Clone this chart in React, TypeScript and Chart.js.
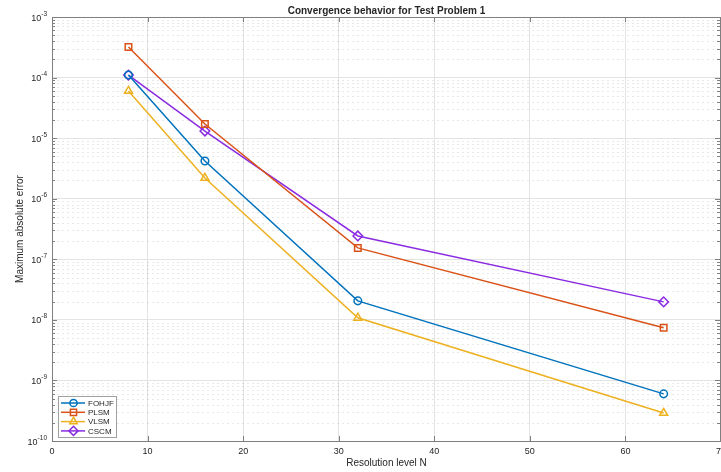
import React, { useEffect, useRef } from 'react';
import { Chart, registerables } from 'chart.js';

Chart.register(...registerables);

const resolutionN = [8, 16, 32, 64];
const fohjfErrors = [1.1e-4, 4.2e-6, 2.06e-8, 6.0e-10];
const plsmErrors = [3.2e-4, 1.71e-5, 1.54e-7, 7.4e-9];
const vlsmErrors = [6.0e-5, 2.2e-6, 1.08e-8, 2.9e-10];
const cscmErrors = [1.1e-4, 1.31e-5, 2.43e-7, 1.98e-8];
const seriesNames = ['FOHJF', 'PLSM', 'VLSM', 'CSCM'];
const xTickValues = [0, 10, 20, 30, 40, 50, 60, 70];
const yTickExponents = [-3, -4, -5, -6, -7, -8, -9, -10];

const titleText = 'Convergence behavior for Test Problem 1';
const xLabel = 'Resolution level N';
const yLabel = 'Maximum absolute error';

const COLORS = ['#0072BD', '#D95319', '#EDB120', '#8A2BE2'];
const STYLES = ['circle', 'rect', 'triangle', 'rectRot'];
const RADII = [3.8, 4.6, 4.6, 4.8];
const FONT = '"Liberation Sans", Arial, Helvetica, sans-serif';
const AXIS_COLOR = '#7f7f7f';
const GRID_COLOR = '#e3e3e3';
const TEXT_COLOR = '#262626';

const isPow10 = (v: number) => {
  const l = Math.log10(v);
  return Math.abs(l - Math.round(l)) < 1e-9;
};

const toPoints = (ys: number[]) => resolutionN.map((x, i) => ({ x, y: ys[i] }));

function drawMarker(ctx: CanvasRenderingContext2D, style: string, x: number, y: number, r: number, color: string) {
  ctx.save();
  ctx.strokeStyle = color;
  ctx.lineWidth = 1.5;
  ctx.beginPath();
  if (style === 'circle') {
    ctx.arc(x, y, r, 0, Math.PI * 2);
  } else if (style === 'rect') {
    const s = r * Math.SQRT1_2;
    ctx.rect(x - s, y - s, 2 * s, 2 * s);
  } else if (style === 'triangle') {
    const a = (Math.PI * 2) / 3;
    ctx.moveTo(x, y - r);
    ctx.lineTo(x + Math.sin(a) * r, y - Math.cos(a) * r);
    ctx.lineTo(x + Math.sin(2 * a) * r, y - Math.cos(2 * a) * r);
    ctx.closePath();
  } else {
    ctx.moveTo(x, y - r);
    ctx.lineTo(x + r, y);
    ctx.lineTo(x, y + r);
    ctx.lineTo(x - r, y);
    ctx.closePath();
  }
  ctx.stroke();
  ctx.restore();
}

const axesPlugin = {
  id: 'matlabAxes',
  beforeDatasetsDraw(chart: any) {
    const { ctx, chartArea } = chart;
    const ys = chart.scales.y;
    ctx.save();
    ctx.strokeStyle = 'rgba(0,0,0,0.09)';
    ctx.lineWidth = 1;
    ctx.setLineDash([2, 3]);
    for (let e = -10; e < -3; e++) {
      for (let k = 2; k <= 9; k++) {
        const y = Math.round(ys.getPixelForValue(k * Math.pow(10, e))) + 0.5;
        ctx.beginPath();
        ctx.moveTo(chartArea.left, y);
        ctx.lineTo(chartArea.right, y);
        ctx.stroke();
      }
    }
    ctx.restore();
  },
  afterDatasetsDraw(chart: any) {
    const { ctx, chartArea } = chart;
    const { left, right, top, bottom } = chartArea;
    const xs = chart.scales.x;
    const ys = chart.scales.y;
    ctx.save();
    ctx.setLineDash([]);
    ctx.strokeStyle = AXIS_COLOR;
    ctx.lineWidth = 1;
    ctx.strokeRect(Math.round(left) + 0.5, Math.round(top) + 0.5, Math.round(right - left) - 1, Math.round(bottom - top));
    ctx.beginPath();
    xTickValues.forEach((v) => {
      const x = Math.round(xs.getPixelForValue(v)) + 0.5;
      ctx.moveTo(x, bottom);
      ctx.lineTo(x, bottom - 5);
      ctx.moveTo(x, top);
      ctx.lineTo(x, top + 5);
    });
    for (let e = -10; e <= -3; e++) {
      for (let k = 1; k <= 9; k++) {
        if (e === -3 && k > 1) break;
        const y = Math.round(ys.getPixelForValue(k * Math.pow(10, e))) + 0.5;
        const len = k === 1 ? 5 : 3;
        ctx.moveTo(left, y);
        ctx.lineTo(left + len, y);
        ctx.moveTo(right - 1, y);
        ctx.lineTo(right - 1 - len, y);
      }
    }
    ctx.stroke();

    ctx.fillStyle = TEXT_COLOR;
    yTickExponents.forEach((e) => {
      const y = ys.getPixelForValue(Math.pow(10, e));
      const expText = '-' + String(-e);
      ctx.font = `6.5px ${FONT}`;
      const expW = ctx.measureText(expText).width;
      const rightEdge = left - 5;
      ctx.textAlign = 'left';
      ctx.textBaseline = 'alphabetic';
      ctx.fillText(expText, rightEdge - expW, y - 1.5);
      ctx.font = `9px ${FONT}`;
      ctx.textAlign = 'right';
      ctx.fillText('10', rightEdge - expW, y + 3.5);
    });

    const lx = left + 6;
    const ly = bottom - 45;
    const lw = 58;
    const lh = 41;
    ctx.fillStyle = '#ffffff';
    ctx.fillRect(lx, ly, lw, lh);
    ctx.strokeStyle = '#a0a0a0';
    ctx.lineWidth = 1;
    ctx.strokeRect(lx + 0.5, ly + 0.5, lw, lh);
    chart.data.datasets.forEach((ds: any, i: number) => {
      const ry = ly + 7 + i * 9.3;
      ctx.strokeStyle = ds.borderColor;
      ctx.lineWidth = 1.5;
      ctx.beginPath();
      ctx.moveTo(lx + 3, ry);
      ctx.lineTo(lx + 27, ry);
      ctx.stroke();
      drawMarker(ctx, ds.pointStyle, lx + 15.5, ry, ds.pointRadius * 0.95, ds.borderColor);
      ctx.fillStyle = TEXT_COLOR;
      ctx.font = `8px ${FONT}`;
      ctx.textAlign = 'left';
      ctx.textBaseline = 'middle';
      ctx.fillText(ds.label, lx + 30, ry + 0.5);
    });
    ctx.restore();
  },
};

export default function App() {
  const canvasRef = useRef<HTMLCanvasElement | null>(null);

  useEffect(() => {
    document.body.style.margin = '0';
    const canvas = canvasRef.current;
    if (!canvas) return;
    const allSeries = [fohjfErrors, plsmErrors, vlsmErrors, cscmErrors];
    const chart = new Chart(canvas, {
      type: 'line',
      data: {
        datasets: allSeries.map((s, i) => ({
          label: seriesNames[i],
          data: toPoints(s),
          borderColor: COLORS[i],
          backgroundColor: 'transparent',
          borderWidth: 1.5,
          pointStyle: STYLES[i] as any,
          pointRadius: RADII[i],
          pointBorderColor: COLORS[i],
          pointBackgroundColor: 'rgba(0,0,0,0)',
          pointBorderWidth: 1.5,
          tension: 0,
          fill: false,
        })),
      },
      options: {
        responsive: false,
        animation: false,
        events: [],
        layout: { autoPadding: false, padding: { right: -2, top: 0, left: 0, bottom: 0 } },
        plugins: {
          legend: { display: false },
          tooltip: { enabled: false },
          title: {
            display: true,
            text: titleText,
            fullSize: false,
            color: TEXT_COLOR,
            font: { family: FONT, size: 10, weight: 'bold', lineHeight: 1.2 },
            padding: { top: 5, bottom: 0 },
          },
        },
        scales: {
          x: {
            type: 'linear',
            min: 0,
            max: 70,
            afterFit: (s: any) => {
              s.height = 31;
              s.paddingLeft = 0;
              s.paddingRight = 0;
            },
            afterBuildTicks: (s: any) => {
              s.ticks = xTickValues.map((v) => ({ value: v }));
            },
            ticks: {
              color: TEXT_COLOR,
              font: { family: FONT, size: 9 },
              padding: 5,
              maxRotation: 0,
              autoSkip: false,
            },
            grid: { color: GRID_COLOR, drawTicks: false, lineWidth: 1 },
            border: { display: false },
            title: {
              display: true,
              text: xLabel,
              color: TEXT_COLOR,
              font: { family: FONT, size: 10, lineHeight: 1.2 },
              padding: { top: 0, bottom: 3 },
            },
          },
          y: {
            type: 'logarithmic',
            min: 1e-10,
            max: 1e-3,
            afterFit: (s: any) => {
              s.width = 52;
              s.paddingTop = 0;
              s.paddingBottom = 0;
            },
            ticks: { display: false },
            grid: {
              drawTicks: false,
              lineWidth: 1,
              color: (c: any) => (c.tick && isPow10(c.tick.value) ? GRID_COLOR : 'rgba(0,0,0,0)'),
            },
            border: { display: false },
            title: {
              display: true,
              text: yLabel,
              color: TEXT_COLOR,
              font: { family: FONT, size: 10, lineHeight: 1.2 },
              padding: { top: 14, bottom: 0 },
            },
          },
        },
      },
      plugins: [axesPlugin],
    });
    return () => chart.destroy();
  }, []);

  return (
    <div style={{ width: 721, height: 472, background: '#fff' }}>
      <canvas ref={canvasRef} width={721} height={472} />
    </div>
  );
}
